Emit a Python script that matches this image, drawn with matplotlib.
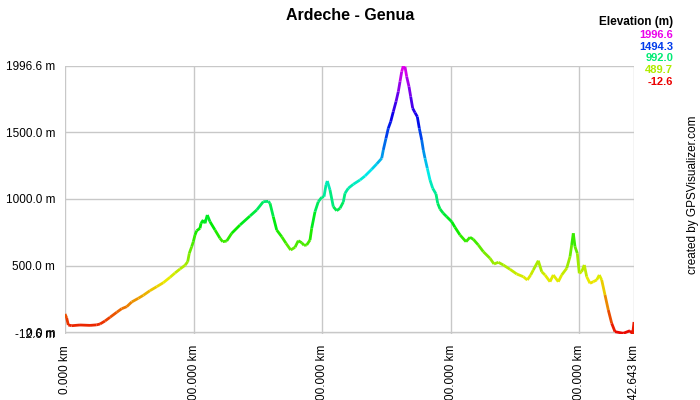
import colorsys
import numpy as np
import matplotlib
matplotlib.use("Agg")
import matplotlib.pyplot as plt
from matplotlib.collections import LineCollection

plt.rcParams['font.family'] = ['Liberation Sans', 'DejaVu Sans']

title = "Ardeche - Genua"

dist_km = [0.0, 1.32, 2.57, 5.21, 11.67, 19.45, 24.66, 27.23, 31.12, 35.01, 40.22, 44.11, 48.0,
           51.89, 57.02, 60.91, 66.07, 71.33, 76.47, 81.68, 85.57, 89.46, 93.35, 95.45, 96.70,
           98.56, 99.81, 101.13, 102.45, 105.02, 105.80, 107.59, 108.91, 110.70, 112.80, 116.69,
           120.58, 122.68, 125.79, 129.68, 136.14, 143.92, 149.13, 154.26, 158.15, 159.48, 162.04,
           164.69, 168.58, 171.92, 175.58, 178.92, 181.49, 184.14, 185.93, 188.03, 190.59, 191.92,
           194.49, 197.05, 199.70, 201.48, 203.04, 204.05, 206.15, 208.72, 211.36, 213.93, 216.50,
           217.82, 220.38, 224.27, 229.49, 233.38, 238.59, 242.48, 246.37, 247.61, 249.71, 251.50,
           253.37, 255.39, 257.49, 259.28, 260.61, 261.93, 263.17, 264.50, 265.82, 267.61, 268.93,
           270.49, 272.28, 274.07, 275.62, 277.49, 278.74, 280.06, 281.85, 283.94, 286.05, 288.61,
           289.93, 291.72, 294.29, 296.93, 300.83, 303.39, 307.28, 311.95, 315.06, 317.63, 321.52,
           325.41, 330.62, 333.73, 337.08, 340.97, 346.18, 351.39, 356.53, 359.64, 362.28, 364.31,
           368.20, 370.84, 373.41, 377.30, 379.86, 383.75, 386.40, 390.29, 392.85, 394.17, 395.42,
           396.74, 398.53, 400.08, 401.95, 403.97, 405.84, 408.41, 410.98, 413.62, 415.65, 417.52,
           420.08, 422.65, 425.29, 427.86, 434.32, 439.53, 441.63, 442.643]

elev_m = [137.4, 107.4, 54.9, 49.6, 54.9, 52.0, 56.0, 62.4, 84.9, 112.6, 150.1, 177.1, 192.1,
          227.3, 255.1, 277.6, 312.1, 342.0, 372.0, 412.5, 444.8, 474.8, 502.5, 529.5, 592.5,
          642.0, 679.4, 729.7, 761.9, 779.9, 817.4, 842.1, 817.4, 879.6, 829.4, 767.2,
          704.9, 679.4, 684.7, 742.4, 804.7, 872.1, 917.1, 979.3, 982.0, 967.3, 866.9,
          767.2, 716.9, 667.4, 617.2, 637.4, 686.9, 671.9, 652.4, 654.7, 692.2, 779.9,
          904.4, 979.3, 1012.3, 1016.8, 1104.6, 1134.5, 1067.1, 941.9, 911.9, 929.9, 977.1,
          1042.3, 1079.8, 1109.8, 1142.0, 1172.0, 1222.3, 1262.0, 1304.7, 1367.0, 1454.7, 1529.7,
          1579.2, 1654.1, 1729.1, 1804.1, 1879.1, 1954.1, 1996.6, 1990.0, 1916.6, 1841.6, 1766.6,
          1679.6, 1646.6, 1616.6, 1529.7, 1442.0, 1367.0, 1304.7, 1229.8, 1142.0, 1079.8, 1037.1,
          967.3, 924.6, 892.4, 866.9, 829.4, 787.4, 729.7, 679.4, 712.4, 697.4, 654.7,
          604.5, 555.0, 512.2, 525.0, 504.7, 472.5, 437.3, 417.0, 392.3, 429.8, 467.3,
          537.0, 454.5, 429.8, 379.5, 429.8, 379.5, 429.8, 480.0, 567.0, 654.7, 742.4,
          642.0, 592.5, 442.5, 454.5, 504.7, 417.0, 367.5, 379.5, 392.3, 429.8, 392.3,
          279.8, 167.3, 67.6, 4.6, -7.4, 12.1, -12.6, 77.4]

x_ticks = [0, 100, 200, 300, 400, 442.643]
x_labels = ["0.000 km", "00.000 km", "00.000 km", "00.000 km", "00.000 km", "42.643 km"]
y_ticks = [-12.6, 0, 500, 1000, 1500, 1996.6]
y_labels = ["-12.6 m", "0.0 m", "500.0 m", "1000.0 m", "1500.0 m", "1996.6 m"]
legend_vals = [1996.6, 1494.3, 992.0, 489.7, -12.6]

emin, emax = min(elev_m), max(elev_m)


def elev_color(e):
    t = (e - emin) / (emax - emin)
    return colorsys.hsv_to_rgb(t * 300 / 360, 1.0, 0.92)


fig = plt.figure(figsize=(7, 4), dpi=100)
ax = fig.add_axes([65 / 700, 66 / 400, 569 / 700, 268 / 400])

x = np.array(dist_km)
y = np.array(elev_m)
pts = np.column_stack([x, y]).reshape(-1, 1, 2)
segs = np.concatenate([pts[:-1], pts[1:]], axis=1)
cols = [elev_color((a + b) / 2) for a, b in zip(y[:-1], y[1:])]
ax.add_collection(LineCollection(segs, colors=cols, linewidths=2, zorder=3))

ax.set_xlim(0, 442.643)
ax.set_ylim(-12.6, 1996.6)
ax.set_xticks(x_ticks)
ax.set_xticklabels(x_labels, rotation=90, va='top', ha='center')
ax.set_yticks(y_ticks)
ax.set_yticklabels(y_labels)
ax.tick_params(length=0, labelsize=8.5, colors='#000000')
ax.tick_params(axis='x', pad=8)
ax.tick_params(axis='y', pad=7)
ax.grid(True, color='#c8c8c8', lw=1)
ax.set_axisbelow(True)
for s in ax.spines.values():
    s.set_visible(False)

fig.text(0.5, 1 - 15 / 400, title, ha='center', va='center', fontsize=11.5, fontweight='bold')

fig.text(673 / 700, 1 - 22 / 400, "Elevation (m)", ha='right', va='center',
         fontsize=8.5, fontweight='bold')
for i, v in enumerate(legend_vals):
    fig.text(673 / 700, 1 - (35 + i * 11.7) / 400, f"{v:.1f}", ha='right', va='center',
             fontsize=8, fontweight='bold', color=elev_color(v))

fig.text(693 / 700, 1 - 195 / 400, "created by GPSVisualizer.com", rotation=90,
         ha='center', va='center', fontsize=8.5)

fig.savefig("out.png", dpi=100)
